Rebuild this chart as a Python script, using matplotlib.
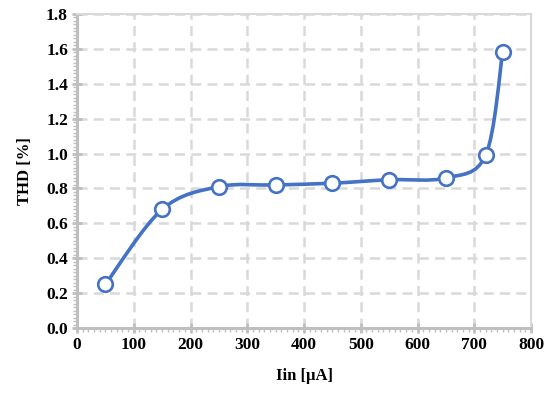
import numpy as np
import matplotlib
matplotlib.use("Agg")
from matplotlib import pyplot as plt
from matplotlib.path import Path
from matplotlib.patches import PathPatch
from matplotlib.ticker import MultipleLocator

plt.rcParams['font.family'] = ['Liberation Serif', 'DejaVu Serif']
plt.rcParams['font.weight'] = 'bold'

# data
iin = [50, 150, 250, 350, 450, 550, 650, 720, 750]
thd = [0.25, 0.68, 0.81, 0.82, 0.83, 0.85, 0.86, 0.99, 1.58]

blue = '#4472C4'

def smooth_path(xs, ys):
    # Excel style smoothed line: cubic bezier through the points
    pts = np.column_stack([xs, ys])
    verts = [pts[0]]
    codes = [Path.MOVETO]
    n = len(pts)
    for i in range(n - 1):
        p0 = pts[i - 1] if i > 0 else pts[i]
        p1 = pts[i]
        p2 = pts[i + 1]
        p3 = pts[i + 2] if i + 2 < n else pts[i + 1]
        c1 = p1 + (p2 - p0) / 6
        c2 = p2 - (p3 - p1) / 6
        verts += [c1, c2, p2]
        codes += [Path.CURVE4] * 3
    return Path(verts, codes)

fig = plt.figure(figsize=(5.5, 3.99), dpi=100)
ax = fig.add_axes([77 / 550, 1 - 328 / 399, 454 / 550, 314 / 399])

ax.add_patch(PathPatch(smooth_path(iin, thd), fill=False, edgecolor=blue,
                       lw=2.6, capstyle='round', zorder=3))
ax.plot(iin, thd, linestyle='none', marker='o', ms=10.5, mfc='white',
        mec=blue, mew=1.9, zorder=4)

ax.set_xlim(0, 800)
ax.set_ylim(0, 1.8)
ax.xaxis.set_major_locator(MultipleLocator(100))
ax.yaxis.set_major_locator(MultipleLocator(0.2))
ax.xaxis.set_minor_locator(MultipleLocator(10))
ax.yaxis.set_minor_locator(MultipleLocator(0.02))
ax.yaxis.set_major_formatter(matplotlib.ticker.FormatStrFormatter('%.1f'))

ax.grid(True, which='major', color='#D9D9D9', linestyle=(0, (4, 2.5)), lw=1.8)
ax.set_axisbelow(True)

for s in ['top', 'right']:
    ax.spines[s].set_color('#D9D9D9')
    ax.spines[s].set_linewidth(1.5)
for s in ['left', 'bottom']:
    ax.spines[s].set_color('#BFBFBF')
    ax.spines[s].set_linewidth(2.2)

ax.tick_params(which='major', direction='inout', length=7, width=2,
               color='#BFBFBF', labelsize=12.5, pad=3)
ax.tick_params(which='minor', direction='out', length=3, width=1,
               color='#BFBFBF')

ax.set_xlabel('Iin [μA]', fontsize=12, fontweight='bold', labelpad=11)
ax.set_ylabel('THD [%]', fontsize=12, fontweight='bold', labelpad=9)

fig.savefig('out.png', dpi=100)
